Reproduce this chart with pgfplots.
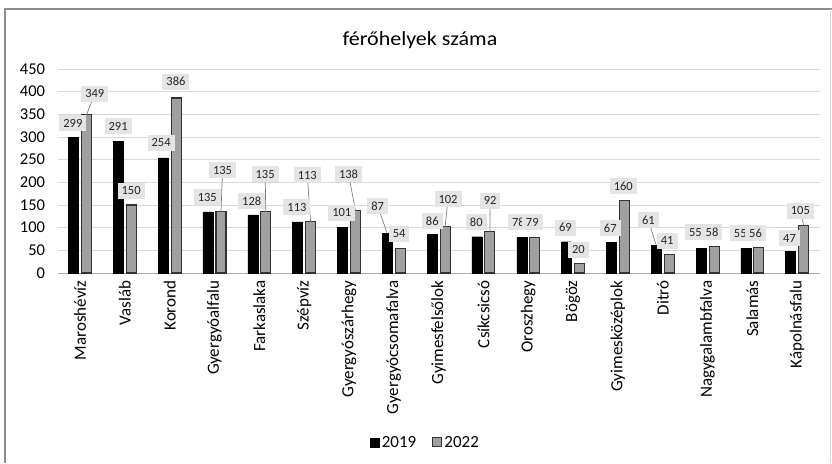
\documentclass[border=0pt]{standalone}
\usepackage{pgfplots}
\pgfplotsset{compat=1.18}
\usepackage{pgfplotstable}
\usepackage{fontspec}
\setmainfont{Carlito}
\definecolor{gridgray}{HTML}{D9D9D9}
\definecolor{labelgray}{HTML}{E4E4E4}
\definecolor{bargray}{HTML}{A0A0A0}
\definecolor{framegray}{HTML}{8C8C8C}

\pgfplotstableread{
x  v19  v22
0  299  349
1  291  150
2  254  386
3  135  135
4  128  135
5  113  113
6  101  138
7  87   54
8  86   102
9  80   92
10 78   79
11 69   20
12 67   160
13 61   41
14 55   58
15 55   56
16 47   105
}\bars

% label positions (x, y in data units) and texts
\pgfplotstableread{
lx     ly   lab
-0.16  331  299
0.85   324  291
1.81   287  254
2.84   167  135
3.83   159  128
4.84   145  113
5.84   133  101
6.64   148  87
7.86   115  86
8.84   112  80
9.78   112  78
10.83  100  69
11.83  99   67
12.68  117  61
13.73  90   55
14.73  88   55
15.83  77   47
}\labA

\pgfplotstableread{
lx     ly   lab
0.33   395  349
1.14   181  150
2.14   422  386
3.18   227  135
4.13   218  135
5.07   216  113
5.99   218  138
7.12   86   54
8.21   163  102
9.15   159  92
10.09  112  79
11.12  51   20
12.12  192  160
13.10  71   41
14.10  90   58
15.07  88   56
16.07  137  105
}\labB

\begin{document}
\begin{tikzpicture}
\useasboundingbox (0pt,0pt) rectangle (832pt,-463pt);
\node[font=\fontsize{20}{22}\selectfont, anchor=center] at (420pt,-40pt) {\scalebox{1.1}[1]{férőhelyek száma}};
\begin{axis}[
  at={(57.6pt,-273pt)}, anchor=south west,
  scale only axis, width=762pt, height=204pt,
  xmin=-0.5, xmax=16.5, ymin=0, ymax=450,
  ytick={0,50,...,450},
  xtick={0,...,16},
  xticklabels={Maroshévíz,Vasláb,Korond,Gyergyóalfalu,Farkaslaka,Szépvíz,Gyergyószárhegy,Gyergyócsomafalva,Gyimesfelsőlok,Csíkcsicsó,Oroszhegy,Bögöz,Gyimesközéplok,Ditró,Nagygalambfalva,Salamás,Kápolnásfalu},
  xticklabel style={rotate=90, anchor=east, font=\fontsize{17}{19}\selectfont},
  xticklabel shift=4pt,
  yticklabel style={font=\fontsize{16.5}{18}\selectfont},
  yticklabel shift=9pt,
  /pgf/number format/assume math mode=true,
  axis x line*=bottom, axis y line*=left,
  x axis line style={draw=gridgray!80!black, line width=0.8pt, -},
  y axis line style={draw=none},
  ymajorgrids, grid style={gridgray, line width=0.8pt},
  major tick length=0pt,
  legend columns=2,
  legend style={at={(axis description cs:0.483,-0.83)}, anchor=center, draw=none, fill=none,
    font=\fontsize{17}{19}\selectfont, /tikz/every even column/.append style={column sep=14pt}},
  legend image code/.code={\draw[#1] (0pt,-4.5pt) rectangle (9pt,4.5pt);},
  clip=false,
]
\addplot[ybar, bar width=10pt, bar shift=-6.5pt, fill=black, draw=black] table[x=x, y=v19] {\bars};
\addlegendentry{2019}
\addplot[ybar, bar width=10pt, bar shift=6.5pt, fill=bargray, draw=black!80, line width=1.1pt] table[x=x, y=v22] {\bars};
\addlegendentry{2022}
% leader lines
\addplot[gray, line width=0.7pt, unbounded coords=jump, forget plot] coordinates {
 (0.33,395) (0.145,349) (nan,nan)
 (3.18,227) (3.145,135) (nan,nan)
 (4.13,218) (4.145,135) (nan,nan)
 (5.07,216) (5.145,113) (nan,nan)
 (5.99,218) (6.145,138) (nan,nan)
 (6.64,148) (6.855,87) (nan,nan)
 (8.21,163) (8.145,102) (nan,nan)
 (9.15,159) (9.145,92) (nan,nan)
 (12.68,117) (12.855,61) (nan,nan)
 (16.07,137) (16.145,105)
};
\pgfplotsset{lab/.style={draw=none, mark=none, forget plot, nodes near coords, point meta=explicit symbolic,
  nodes near coords style={fill=labelgray, anchor=center, inner xsep=4pt, inner ysep=2.5pt, minimum height=16pt,
  font=\fontsize{12.5}{14}\selectfont, text=black!85}}}
\addplot[lab] table[x=lx, y=ly, meta=lab] {\labA};
\addplot[lab] table[x=lx, y=ly, meta=lab] {\labB};
\end{axis}
\draw[framegray, line width=1.2pt] (5pt,-463pt) -- (5pt,-9pt) -- (832pt,-9pt);
\draw[gridgray, line width=1pt] (830pt,-9pt) -- (830pt,-463pt);
\end{tikzpicture}
\end{document}
